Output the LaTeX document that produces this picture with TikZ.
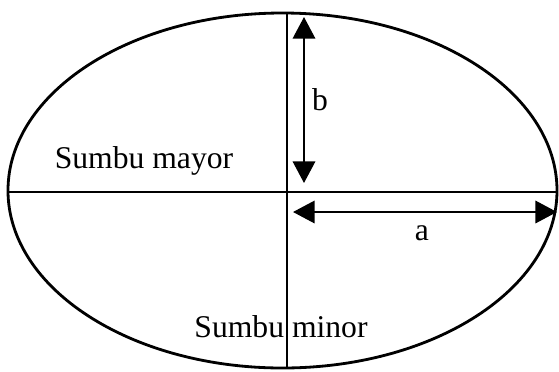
\documentclass[tikz,border=0pt]{standalone}
\usepackage{fontspec}
\setmainfont{Liberation Serif}
\usetikzlibrary{arrows.meta}
\tikzset{
  rim/.style={line width=2pt},
  axisln/.style={line width=1.5pt},
  dimarr/.style={{Triangle[length=5.4mm,width=5.6mm]}-{Triangle[length=5.4mm,width=5.6mm]},line width=1.5pt},
  lbl/.style={font=\fontsize{22.5}{27}\selectfont,inner sep=0pt,anchor=base},
}
\begin{document}
\begin{tikzpicture}[x=0.025cm,y=-0.025cm]
  \useasboundingbox (0,0) rectangle (559,371);
  % the ellipse
  \draw[rim] (282.5,190.5) ellipse [x radius=274.5, y radius=177.5];
  % the two axes
  \coordinate (top) at (287,13);
  \coordinate (bot) at (287,368);
  \coordinate (lft) at (8,192);
  \coordinate (rgt) at (557,192);
  \draw[axisln] (top) -- (bot);
  \draw[axisln] (lft) -- (rgt);
  % semi-axes b and a
  \coordinate (btop) at (304,17);
  \coordinate (bbot) at (304,183);
  \coordinate (aleft) at (293,212);
  \coordinate (aright) at (557,212);
  \draw[dimarr] (btop) -- (bbot);
  \draw[dimarr] (aleft) -- (aright);
  % labels
  \node[lbl] (lb) at (320,110) {b};
  \node[lbl] (la) at (422,240) {a};
  \node[lbl] (mayor) at (144,168) {Sumbu mayor};
  \node[lbl] (minor) at (281,337) {Sumbu minor};
\end{tikzpicture}
\end{document}
